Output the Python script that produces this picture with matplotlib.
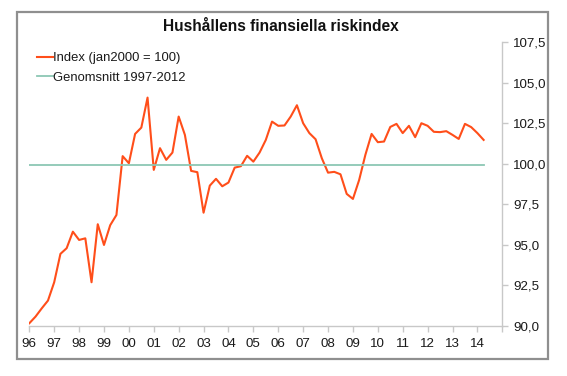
import matplotlib
matplotlib.use("Agg")
import matplotlib.pyplot as plt
import matplotlib.patches as patches
from matplotlib.ticker import FuncFormatter

plt.rcParams['font.family'] = ['Liberation Sans', 'DejaVu Sans']

# Quarterly index, 1996Q1 .. 2014Q2
start_year = 1996
index_values = [
    90.15, 90.56, 91.07, 91.55, 92.68, 94.43, 94.78, 95.80, 95.29, 95.39,
    92.68, 96.26, 94.98, 96.20, 96.83, 100.46, 100.02, 101.83, 102.22, 104.07,
    99.61, 100.95, 100.23, 100.68, 102.90, 101.77, 99.55, 99.47, 96.97, 98.64,
    99.06, 98.60, 98.83, 99.75, 99.84, 100.48, 100.12, 100.68, 101.46, 102.59,
    102.33, 102.35, 102.90, 103.60, 102.49, 101.88, 101.50, 100.33, 99.44, 99.49,
    99.34, 98.13, 97.82, 98.99, 100.54, 101.83, 101.32, 101.36, 102.26, 102.45,
    101.88, 102.33, 101.63, 102.49, 102.33, 101.96, 101.94, 102.00, 101.77, 101.52,
    102.45, 102.25, 101.88, 101.46,
]
mean_value = 99.9
series_label = "Index (jan2000 = 100)"
mean_label = "Genomsnitt 1997-2012"
title = "Hushållens finansiella riskindex"
year_ticks = list(range(1996, 2016))
year_labels = [f"{y % 100:02d}" for y in range(1996, 2015)] + [""]
y_ticks = [90.0, 92.5, 95.0, 97.5, 100.0, 102.5, 105.0, 107.5]

x = [start_year + 0.25 * i for i in range(len(index_values))]

fig = plt.figure(figsize=(5.67, 3.76), dpi=100)
fig.patch.set_facecolor('white')

# outer frame
frame = patches.Rectangle((17 / 567, 1 - 359 / 376), 531 / 567, 347 / 376,
                          transform=fig.transFigure, fill=False,
                          edgecolor='#8f8f8f', linewidth=1.6)
fig.patches.append(frame)

ax = fig.add_axes([29.3 / 567, 1 - 325.7 / 376, (502.3 - 29.3) / 567, (325.7 - 42) / 376])
ax.set_facecolor('none')

l1, = ax.plot(x, index_values, color='#FF4E1A', linewidth=1.5, label=series_label)
l2, = ax.plot([x[0], x[-1]], [mean_value, mean_value], color='#8CC7B4',
              linewidth=1.3, label=mean_label)

ax.set_xlim(1996, 2015)
ax.set_ylim(90, 107.5)
ax.set_xticks(year_ticks)
ax.set_xticklabels(year_labels)
ax.set_yticks(y_ticks)
ax.yaxis.set_major_formatter(FuncFormatter(lambda v, p: f"{v:.1f}".replace('.', ',')))
ax.yaxis.tick_right()

for s in ['top', 'left']:
    ax.spines[s].set_visible(False)
for s in ['right', 'bottom']:
    ax.spines[s].set_color('#C8C8C8')
    ax.spines[s].set_linewidth(1.0)

ax.tick_params(axis='x', direction='out', length=4, width=1, color='#C8C8C8',
               labelsize=9.6, pad=5, labelcolor='#1a1a1a')
ax.tick_params(axis='y', direction='out', length=4, width=1, color='#C8C8C8',
               labelsize=9.6, pad=4, labelcolor='#1a1a1a')

fig.text(281 / 567, 1 - 26.7 / 376, title, ha='center', va='center',
         fontsize=11.2, fontweight='bold', color='#111111')

leg = fig.legend(handles=[l1, l2], loc='upper left',
                 bbox_to_anchor=(37 / 567, 1 - 52 / 376),
                 frameon=False, fontsize=9.35, handlelength=1.2,
                 handletextpad=0.05, labelspacing=0.6, borderaxespad=0,
                 borderpad=0)
for t in leg.get_texts():
    t.set_color('#1a1a1a')

fig.savefig('out.png', dpi=100, facecolor='white')
